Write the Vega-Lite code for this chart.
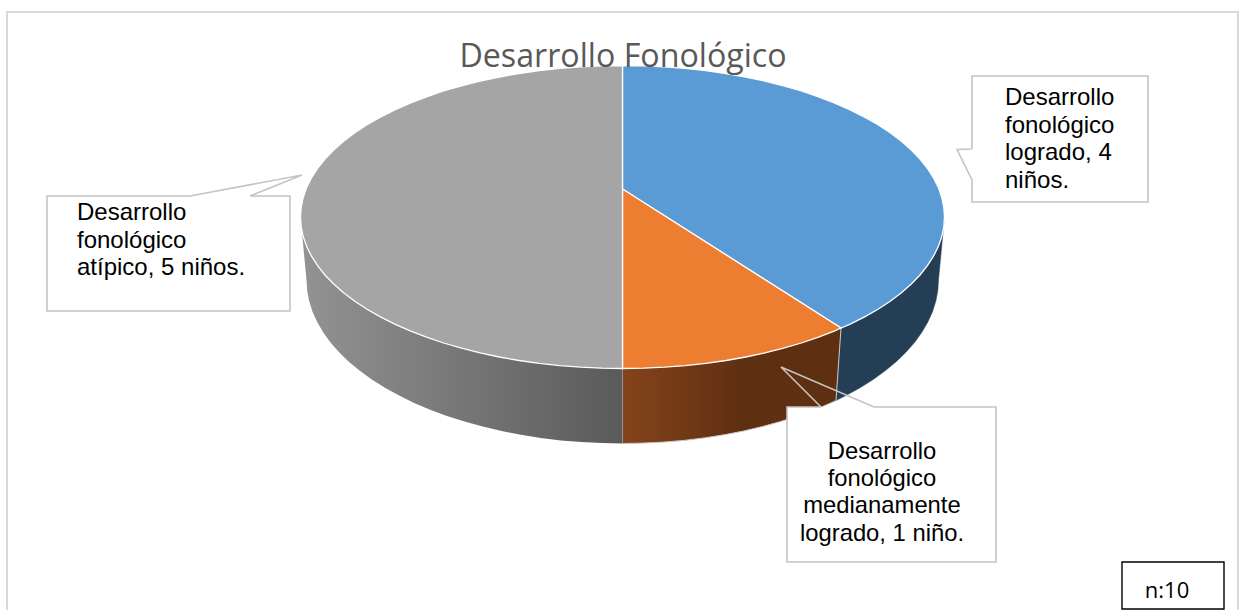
{
"$schema":"https://vega.github.io/schema/vega-lite/v6.json",
"width":1243,"height":610,"padding":0,"autosize":{"type":"none"},
"background":"white",
"config":{"view":{"stroke":null}},
"datasets":{
"marco":[{"o":1,"x":7,"y":610},{"o":2,"x":7,"y":12},{"o":3,"x":1238,"y":12},{"o":4,"x":1238,"y":610}],
"paredAzul":[{"o":1,"x":944.5,"y":217},{"o":2,"x":938.5,"y":280},{"o":3,"x":937.8,"y":290.7},{"o":4,"x":935.8,"y":301.3},{"o":5,"x":932.4,"y":311.9},{"o":6,"x":927.7,"y":322.3},{"o":7,"x":921.7,"y":332.6},{"o":8,"x":914.5,"y":342.6},{"o":9,"x":905.9,"y":352.3},{"o":10,"x":896.2,"y":361.75},{"o":11,"x":885.2,"y":370.8},{"o":12,"x":873.2,"y":379.5},{"o":13,"x":860.1,"y":387.8},{"o":14,"x":845.9,"y":395.6},{"o":15,"x":836,"y":400.6},{"o":16,"x":841,"y":328},{"o":17,"x":944.5,"y":217}],
"paredNaranja":[{"o":1,"x":841,"y":328},{"o":2,"x":836,"y":400.6},{"o":3,"x":830.9,"y":402.9},{"o":4,"x":814.9,"y":409.7},{"o":5,"x":798.1,"y":415.9},{"o":6,"x":780.5,"y":421.6},{"o":7,"x":762.3,"y":426.6},{"o":8,"x":743.4,"y":431.1},{"o":9,"x":724.1,"y":434.8},{"o":10,"x":704.3,"y":437.9},{"o":11,"x":684.1,"y":440.4},{"o":12,"x":663.7,"y":442.1},{"o":13,"x":643.2,"y":443.1},{"o":14,"x":622.5,"y":443.5},{"o":15,"x":622.5,"y":368.5},{"o":16,"x":841,"y":328}],
"paredGris":[{"o":1,"x":622.5,"y":368.5},{"o":2,"x":622.5,"y":443.5},{"o":3,"x":601.8,"y":443.1},{"o":4,"x":581.3,"y":442.1},{"o":5,"x":560.9,"y":440.4},{"o":6,"x":540.7,"y":437.9},{"o":7,"x":520.9,"y":434.8},{"o":8,"x":501.6,"y":431.1},{"o":9,"x":482.7,"y":426.6},{"o":10,"x":464.5,"y":421.6},{"o":11,"x":446.9,"y":415.9},{"o":12,"x":430.1,"y":409.7},{"o":13,"x":414.1,"y":402.9},{"o":14,"x":399.1,"y":395.6},{"o":15,"x":384.9,"y":387.8},{"o":16,"x":371.8,"y":379.5},{"o":17,"x":359.8,"y":370.8},{"o":18,"x":348.8,"y":361.75},{"o":19,"x":339.1,"y":352.3},{"o":20,"x":330.5,"y":342.6},{"o":21,"x":323.3,"y":332.6},{"o":22,"x":317.3,"y":322.3},{"o":23,"x":312.6,"y":311.9},{"o":24,"x":309.2,"y":301.3},{"o":25,"x":307.2,"y":290.7},{"o":26,"x":306.5,"y":280},{"o":27,"x":300.5,"y":217},{"o":28,"x":622.5,"y":368.5}],
"tajadas":[
{"categoria":"logrado","ninos":4,"o":1,"x":622.5,"y":189},{"categoria":"logrado","ninos":4,"o":2,"x":622.5,"y":65.5},{"categoria":"logrado","ninos":4,"o":3,"x":643.6,"y":65.8},{"categoria":"logrado","ninos":4,"o":4,"x":664.5,"y":66.8},{"categoria":"logrado","ninos":4,"o":5,"x":685.3,"y":68.4},{"categoria":"logrado","ninos":4,"o":6,"x":705.8,"y":70.7},{"categoria":"logrado","ninos":4,"o":7,"x":726,"y":73.5},{"categoria":"logrado","ninos":4,"o":8,"x":745.7,"y":77},{"categoria":"logrado","ninos":4,"o":9,"x":764.9,"y":81.1},{"categoria":"logrado","ninos":4,"o":10,"x":783.5,"y":85.8},{"categoria":"logrado","ninos":4,"o":11,"x":801.4,"y":91},{"categoria":"logrado","ninos":4,"o":12,"x":818.5,"y":96.8},{"categoria":"logrado","ninos":4,"o":13,"x":834.8,"y":103.1},{"categoria":"logrado","ninos":4,"o":14,"x":850.2,"y":109.9},{"categoria":"logrado","ninos":4,"o":15,"x":864.6,"y":117.1},{"categoria":"logrado","ninos":4,"o":16,"x":878,"y":124.8},{"categoria":"logrado","ninos":4,"o":17,"x":890.2,"y":132.8},{"categoria":"logrado","ninos":4,"o":18,"x":901.4,"y":141.25},{"categoria":"logrado","ninos":4,"o":19,"x":911.3,"y":150},{"categoria":"logrado","ninos":4,"o":20,"x":920,"y":159},{"categoria":"logrado","ninos":4,"o":21,"x":927.4,"y":168.3},{"categoria":"logrado","ninos":4,"o":22,"x":933.5,"y":177.8},{"categoria":"logrado","ninos":4,"o":23,"x":938.3,"y":187.4},{"categoria":"logrado","ninos":4,"o":24,"x":941.7,"y":197.2},{"categoria":"logrado","ninos":4,"o":25,"x":943.8,"y":207.1},{"categoria":"logrado","ninos":4,"o":26,"x":944.5,"y":217},{"categoria":"logrado","ninos":4,"o":27,"x":943.8,"y":226.9},{"categoria":"logrado","ninos":4,"o":28,"x":941.7,"y":236.8},{"categoria":"logrado","ninos":4,"o":29,"x":938.3,"y":246.6},{"categoria":"logrado","ninos":4,"o":30,"x":933.5,"y":256.2},{"categoria":"logrado","ninos":4,"o":31,"x":927.4,"y":265.7},{"categoria":"logrado","ninos":4,"o":32,"x":920,"y":275},{"categoria":"logrado","ninos":4,"o":33,"x":911.3,"y":284},{"categoria":"logrado","ninos":4,"o":34,"x":901.4,"y":292.75},{"categoria":"logrado","ninos":4,"o":35,"x":890.2,"y":301.2},{"categoria":"logrado","ninos":4,"o":36,"x":878,"y":309.2},{"categoria":"logrado","ninos":4,"o":37,"x":864.6,"y":316.9},{"categoria":"logrado","ninos":4,"o":38,"x":850.2,"y":324.1},{"categoria":"logrado","ninos":4,"o":39,"x":841,"y":328},{"categoria":"logrado","ninos":4,"o":40,"x":622.5,"y":189},
{"categoria":"medianamente logrado","ninos":1,"o":1,"x":622.5,"y":189},{"categoria":"medianamente logrado","ninos":1,"o":2,"x":841,"y":328},{"categoria":"medianamente logrado","ninos":1,"o":3,"x":834.8,"y":330.9},{"categoria":"medianamente logrado","ninos":1,"o":4,"x":818.5,"y":337.2},{"categoria":"medianamente logrado","ninos":1,"o":5,"x":801.4,"y":343},{"categoria":"medianamente logrado","ninos":1,"o":6,"x":783.5,"y":348.2},{"categoria":"medianamente logrado","ninos":1,"o":7,"x":764.9,"y":352.9},{"categoria":"medianamente logrado","ninos":1,"o":8,"x":745.7,"y":357},{"categoria":"medianamente logrado","ninos":1,"o":9,"x":726,"y":360.5},{"categoria":"medianamente logrado","ninos":1,"o":10,"x":705.8,"y":363.3},{"categoria":"medianamente logrado","ninos":1,"o":11,"x":685.3,"y":365.6},{"categoria":"medianamente logrado","ninos":1,"o":12,"x":664.5,"y":367.2},{"categoria":"medianamente logrado","ninos":1,"o":13,"x":643.6,"y":368.2},{"categoria":"medianamente logrado","ninos":1,"o":14,"x":622.5,"y":368.5},{"categoria":"medianamente logrado","ninos":1,"o":15,"x":622.5,"y":189},
{"categoria":"atípico","ninos":5,"o":1,"x":622.5,"y":189},{"categoria":"atípico","ninos":5,"o":2,"x":622.5,"y":368.5},{"categoria":"atípico","ninos":5,"o":3,"x":601.4,"y":368.2},{"categoria":"atípico","ninos":5,"o":4,"x":580.5,"y":367.2},{"categoria":"atípico","ninos":5,"o":5,"x":559.7,"y":365.6},{"categoria":"atípico","ninos":5,"o":6,"x":539.2,"y":363.3},{"categoria":"atípico","ninos":5,"o":7,"x":519,"y":360.5},{"categoria":"atípico","ninos":5,"o":8,"x":499.3,"y":357},{"categoria":"atípico","ninos":5,"o":9,"x":480.1,"y":352.9},{"categoria":"atípico","ninos":5,"o":10,"x":461.5,"y":348.2},{"categoria":"atípico","ninos":5,"o":11,"x":443.6,"y":343},{"categoria":"atípico","ninos":5,"o":12,"x":426.5,"y":337.2},{"categoria":"atípico","ninos":5,"o":13,"x":410.2,"y":330.9},{"categoria":"atípico","ninos":5,"o":14,"x":394.8,"y":324.1},{"categoria":"atípico","ninos":5,"o":15,"x":380.4,"y":316.9},{"categoria":"atípico","ninos":5,"o":16,"x":367,"y":309.2},{"categoria":"atípico","ninos":5,"o":17,"x":354.8,"y":301.2},{"categoria":"atípico","ninos":5,"o":18,"x":343.6,"y":292.75},{"categoria":"atípico","ninos":5,"o":19,"x":333.7,"y":284},{"categoria":"atípico","ninos":5,"o":20,"x":325,"y":275},{"categoria":"atípico","ninos":5,"o":21,"x":317.6,"y":265.7},{"categoria":"atípico","ninos":5,"o":22,"x":311.5,"y":256.2},{"categoria":"atípico","ninos":5,"o":23,"x":306.7,"y":246.6},{"categoria":"atípico","ninos":5,"o":24,"x":303.3,"y":236.8},{"categoria":"atípico","ninos":5,"o":25,"x":301.2,"y":226.9},{"categoria":"atípico","ninos":5,"o":26,"x":300.5,"y":217},{"categoria":"atípico","ninos":5,"o":27,"x":301.2,"y":207.1},{"categoria":"atípico","ninos":5,"o":28,"x":303.3,"y":197.2},{"categoria":"atípico","ninos":5,"o":29,"x":306.7,"y":187.4},{"categoria":"atípico","ninos":5,"o":30,"x":311.5,"y":177.8},{"categoria":"atípico","ninos":5,"o":31,"x":317.6,"y":168.3},{"categoria":"atípico","ninos":5,"o":32,"x":325,"y":159},{"categoria":"atípico","ninos":5,"o":33,"x":333.7,"y":150},{"categoria":"atípico","ninos":5,"o":34,"x":343.6,"y":141.25},{"categoria":"atípico","ninos":5,"o":35,"x":354.8,"y":132.8},{"categoria":"atípico","ninos":5,"o":36,"x":367,"y":124.8},{"categoria":"atípico","ninos":5,"o":37,"x":380.4,"y":117.1},{"categoria":"atípico","ninos":5,"o":38,"x":394.8,"y":109.9},{"categoria":"atípico","ninos":5,"o":39,"x":410.2,"y":103.1},{"categoria":"atípico","ninos":5,"o":40,"x":426.5,"y":96.8},{"categoria":"atípico","ninos":5,"o":41,"x":443.6,"y":91},{"categoria":"atípico","ninos":5,"o":42,"x":461.5,"y":85.8},{"categoria":"atípico","ninos":5,"o":43,"x":480.1,"y":81.1},{"categoria":"atípico","ninos":5,"o":44,"x":499.3,"y":77},{"categoria":"atípico","ninos":5,"o":45,"x":519,"y":73.5},{"categoria":"atípico","ninos":5,"o":46,"x":539.2,"y":70.7},{"categoria":"atípico","ninos":5,"o":47,"x":559.7,"y":68.4},{"categoria":"atípico","ninos":5,"o":48,"x":580.5,"y":66.8},{"categoria":"atípico","ninos":5,"o":49,"x":601.4,"y":65.8},{"categoria":"atípico","ninos":5,"o":50,"x":622.5,"y":65.5},{"categoria":"atípico","ninos":5,"o":51,"x":622.5,"y":189}
],
"cajas":[{"caja":"atípico","x":47,"x2":290,"y":196,"y2":311},{"caja":"logrado","x":972,"x2":1148,"y":76,"y2":202},{"caja":"medianamente","x":787,"x2":996,"y":407,"y2":562}],
"bordes":[
{"caja":"atípico","o":1,"x":250,"y":196},{"caja":"atípico","o":2,"x":302,"y":175},{"caja":"atípico","o":3,"x":190,"y":196},{"caja":"atípico","o":4,"x":47,"y":196},{"caja":"atípico","o":5,"x":47,"y":311},{"caja":"atípico","o":6,"x":290,"y":311},{"caja":"atípico","o":7,"x":290,"y":196},{"caja":"atípico","o":8,"x":250,"y":196},
{"caja":"logrado","o":1,"x":972,"y":149},{"caja":"logrado","o":2,"x":957,"y":149.5},{"caja":"logrado","o":3,"x":972,"y":180},{"caja":"logrado","o":4,"x":972,"y":202},{"caja":"logrado","o":5,"x":1148,"y":202},{"caja":"logrado","o":6,"x":1148,"y":76},{"caja":"logrado","o":7,"x":972,"y":76},{"caja":"logrado","o":8,"x":972,"y":149},
{"caja":"medianamente","o":1,"x":821,"y":407},{"caja":"medianamente","o":2,"x":781,"y":367},{"caja":"medianamente","o":3,"x":874,"y":407},{"caja":"medianamente","o":4,"x":996,"y":407},{"caja":"medianamente","o":5,"x":996,"y":562},{"caja":"medianamente","o":6,"x":787,"y":562},{"caja":"medianamente","o":7,"x":787,"y":407},{"caja":"medianamente","o":8,"x":821,"y":407}],
"textos":[
{"t":"Desarrollo","x":77,"y":213},{"t":"fonológico","x":77,"y":241},{"t":"atípico, 5 niños.","x":77,"y":268},
{"t":"Desarrollo","x":1005,"y":98},{"t":"fonológico","x":1005,"y":126},{"t":"logrado, 4","x":1005,"y":153},{"t":"niños.","x":1005,"y":181}
],
"textosCentro":[
{"t":"Desarrollo","x":882,"y":452},{"t":"fonológico","x":882,"y":479},{"t":"medianamente","x":882,"y":506},{"t":"logrado, 1 niño.","x":882,"y":534}
],
"cajaN":[{"x":1122,"x2":1224,"y":562,"y2":609}],
"textoN":[{"t":"n:10","x":1167,"y":591}],
"titulo":[{"t":"Desarrollo Fonológico","x":623,"y":57}]
},
"layer":[
{"data":{"name":"marco"},"mark":{"type":"line","stroke":"#d9d9d9","strokeWidth":2,"clip":true},
 "encoding":{"x":{"field":"x","type":"quantitative","scale":{"domain":[0,1243],"nice":false,"zero":false},"axis":null},"y":{"field":"y","type":"quantitative","scale":{"domain":[610,0],"nice":false,"zero":false},"axis":null},"order":{"field":"o","type":"quantitative"}}},
{"data":{"name":"paredAzul"},"mark":{"type":"line","fill":"#243e55","stroke":"#243e55","strokeWidth":0.5},
 "encoding":{"x":{"field":"x","type":"quantitative"},"y":{"field":"y","type":"quantitative"},"order":{"field":"o","type":"quantitative"}}},
{"data":{"name":"paredNaranja"},"mark":{"type":"line","stroke":"#c9c9c9","strokeWidth":1,"fill":{"gradient":"linear","x1":0,"y1":0,"x2":1,"y2":0,"stops":[{"offset":0,"color":"#85441b"},{"offset":0.55,"color":"#5f2f11"},{"offset":1,"color":"#5e2f10"}]}},
 "encoding":{"x":{"field":"x","type":"quantitative"},"y":{"field":"y","type":"quantitative"},"order":{"field":"o","type":"quantitative"}}},
{"data":{"name":"paredGris"},"mark":{"type":"line","stroke":"#c9c9c9","strokeWidth":0,"fill":{"gradient":"linear","x1":0,"y1":0,"x2":1,"y2":0,"stops":[{"offset":0,"color":"#939393"},{"offset":1,"color":"#5a5a5a"}]}},
 "encoding":{"x":{"field":"x","type":"quantitative"},"y":{"field":"y","type":"quantitative"},"order":{"field":"o","type":"quantitative"}}},
{"data":{"name":"tajadas"},"mark":{"type":"line","stroke":"#ffffff","strokeWidth":1.3},
 "encoding":{"x":{"field":"x","type":"quantitative"},"y":{"field":"y","type":"quantitative"},"order":{"field":"o","type":"quantitative"},
 "fill":{"field":"categoria","type":"nominal","legend":null,"scale":{"domain":["logrado","medianamente logrado","atípico"],"range":["#5b9bd5","#ed7d31","#a5a5a5"]}}}},
{"data":{"name":"cajas"},"mark":{"type":"rect","fill":"#ffffff"},
 "encoding":{"x":{"field":"x","type":"quantitative"},"x2":{"field":"x2"},"y":{"field":"y","type":"quantitative"},"y2":{"field":"y2"}}},
{"data":{"name":"bordes"},"mark":{"type":"line","stroke":"#c4c4c4","strokeWidth":1.6},
 "encoding":{"x":{"field":"x","type":"quantitative"},"y":{"field":"y","type":"quantitative"},"order":{"field":"o","type":"quantitative"},"detail":{"field":"caja"}}},
{"data":{"name":"cajaN"},"mark":{"type":"rect","fill":"#ffffff","stroke":"#000000","strokeWidth":1.4},
 "encoding":{"x":{"field":"x","type":"quantitative"},"x2":{"field":"x2"},"y":{"field":"y","type":"quantitative"},"y2":{"field":"y2"}}},
{"data":{"name":"textos"},"mark":{"type":"text","font":"Liberation Sans","fontSize":24,"align":"left","baseline":"middle","color":"#000000"},
 "encoding":{"x":{"field":"x","type":"quantitative"},"y":{"field":"y","type":"quantitative"},"text":{"field":"t"}}},
{"data":{"name":"textosCentro"},"mark":{"type":"text","font":"Liberation Sans","fontSize":23.8,"align":"center","baseline":"middle","color":"#000000"},
 "encoding":{"x":{"field":"x","type":"quantitative"},"y":{"field":"y","type":"quantitative"},"text":{"field":"t"}}},
{"data":{"name":"textoN"},"mark":{"type":"text","font":"Open Sans","fontSize":22,"align":"center","baseline":"middle","color":"#000000"},
 "encoding":{"x":{"field":"x","type":"quantitative"},"y":{"field":"y","type":"quantitative"},"text":{"field":"t"}}},
{"data":{"name":"titulo"},"mark":{"type":"text","font":"Open Sans","fontSize":32.2,"align":"center","baseline":"middle","color":"#595959"},
 "encoding":{"x":{"field":"x","type":"quantitative"},"y":{"field":"y","type":"quantitative"},"text":{"field":"t"}}}
]
}
